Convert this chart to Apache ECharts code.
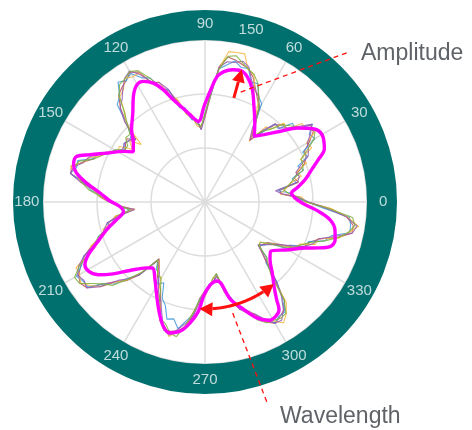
<!DOCTYPE html>
<html>
<head>
<meta charset="utf-8">
<script src="https://cdn.jsdelivr.net/npm/echarts@6/dist/echarts.min.js"></script>
<style>
  html, body { margin: 0; padding: 0; background: #ffffff; }
  #chart { width: 472px; height: 430px; }
</style>
</head>
<body>
<div id="chart"></div>
<script>
// Angle grid (degrees) shared by the five measured traces
const ANGLES = [
  0, 3, 6, 9, 12, 15, 18, 21, 24, 27,
  30, 33, 36, 39, 42, 45, 48, 51, 54, 57,
  60, 63, 66, 69, 72, 75, 78, 81, 84, 87,
  90, 93, 96, 99, 102, 105, 108, 111, 114, 117,
  120, 123, 126, 129, 132, 135, 138, 141, 144, 147,
  150, 153, 156, 159, 162, 165, 168, 171, 174, 177,
  180, 183, 186, 189, 192, 195, 198, 201, 204, 207,
  210, 213, 216, 219, 222, 225, 228, 231, 234, 237,
  240, 243, 246, 249, 252, 255, 258, 261, 264, 267,
  270, 273, 276, 279, 282, 285, 288, 291, 294, 297,
  300, 303, 306, 309, 312, 315, 318, 321, 324, 327,
  330, 333, 336, 339, 342, 345, 348, 351, 354, 357
];

// Measured radius traces
const TRACE_BLUE = [
  1.90, 1.65, 1.58, 1.36, 1.73, 1.67, 1.92, 1.84, 2.08, 2.03,
  2.35, 2.30, 2.46, 2.15, 2.18, 1.92, 1.95, 1.64, 1.51, 1.65,
  2.10, 2.19, 2.40, 2.38, 2.60, 2.58, 2.67, 2.57, 2.48, 1.98,
  1.64, 1.35, 1.55, 1.54, 1.79, 1.81, 2.18, 2.25, 2.52, 2.58,
  2.75, 2.68, 2.74, 2.51, 2.43, 2.06, 1.84, 1.80, 1.85, 1.78,
  1.92, 1.97, 2.16, 2.23, 2.48, 2.46, 2.55, 2.27, 2.13, 1.89,
  1.76, 1.55, 1.41, 1.56, 1.85, 1.84, 2.08, 2.13, 2.46, 2.56,
  2.75, 2.69, 2.68, 2.41, 2.27, 1.99, 1.80, 1.38, 1.54, 1.56,
  1.75, 1.68, 1.95, 2.05, 2.28, 2.24, 2.40, 2.23, 2.10, 1.80,
  1.70, 1.52, 1.50, 1.37, 1.68, 1.83, 2.08, 2.15, 2.35, 2.44,
  2.59, 2.52, 2.52, 2.27, 1.99, 1.60, 1.54, 1.27, 1.36, 1.40,
  1.69, 1.76, 2.04, 2.05, 2.33, 2.42, 2.74, 2.73, 2.69, 2.20
];
const TRACE_YELLOW = [
  1.86, 1.79, 1.40, 1.51, 1.60, 1.85, 1.77, 2.02, 1.93, 2.22,
  2.17, 2.45, 2.29, 2.31, 2.00, 2.07, 1.82, 1.79, 1.39, 1.66,
  1.90, 2.21, 2.26, 2.53, 2.58, 2.84, 2.83, 2.82, 2.49, 2.02,
  1.60, 1.37, 1.42, 1.66, 1.66, 1.97, 2.05, 2.38, 2.40, 2.68,
  2.68, 2.73, 2.57, 2.51, 2.21, 2.09, 1.59, 1.80, 1.66, 1.89,
  1.87, 2.03, 2.11, 2.29, 2.36, 2.58, 2.43, 2.33, 2.07, 1.95,
  1.72, 1.60, 1.30, 1.69, 1.72, 1.96, 1.96, 2.26, 2.34, 2.68,
  2.68, 2.75, 2.63, 2.49, 2.21, 2.05, 1.76, 1.39, 1.43, 1.60,
  1.62, 1.92, 2.03, 2.35, 2.42, 2.58, 2.45, 2.37, 2.05, 1.85,
  1.66, 1.58, 1.41, 1.39, 1.64, 1.89, 2.02, 2.21, 2.30, 2.49,
  2.54, 2.67, 2.56, 2.39, 1.84, 1.72, 1.43, 1.29, 1.26, 1.44,
  1.56, 1.88, 1.92, 2.19, 2.20, 2.57, 2.72, 2.88, 2.65, 2.34
];
const TRACE_PURPLE = [
  1.92, 1.73, 1.44, 1.32, 1.75, 1.81, 1.77, 1.90, 2.09, 2.15,
  2.19, 2.33, 2.45, 2.22, 2.05, 1.94, 1.95, 1.71, 1.41, 1.60,
  2.01, 2.19, 2.27, 2.41, 2.63, 2.70, 2.64, 2.63, 2.51, 2.03,
  1.58, 1.34, 1.53, 1.61, 1.69, 1.85, 2.19, 2.37, 2.43, 2.65,
  2.80, 2.73, 2.59, 2.44, 2.35, 2.11, 1.73, 1.81, 1.85, 1.81,
  1.85, 1.99, 2.17, 2.31, 2.37, 2.51, 2.55, 2.33, 2.05, 1.89,
  1.77, 1.61, 1.31, 1.59, 1.85, 1.93, 1.99, 2.17, 2.45, 2.63,
  2.72, 2.67, 2.71, 2.49, 2.17, 2.01, 1.81, 1.40, 1.46, 1.55,
  1.73, 1.89, 2.01, 2.23, 2.49, 2.55, 2.41, 2.27, 2.13, 1.85,
  1.64, 1.53, 1.48, 1.40, 1.60, 1.83, 2.09, 2.21, 2.27, 2.43,
  2.59, 2.61, 2.47, 2.25, 1.97, 1.67, 1.44, 1.26, 1.34, 1.45,
  1.57, 1.79, 2.03, 2.15, 2.21, 2.47, 2.79, 2.85, 2.63, 2.25
];
const TRACE_GREEN = [
  1.88, 1.73, 1.55, 1.47, 1.61, 1.71, 1.91, 1.94, 1.95, 2.13,
  2.33, 2.43, 2.31, 2.21, 2.11, 2.03, 1.81, 1.69, 1.50, 1.71,
  1.99, 2.19, 2.41, 2.53, 2.59, 2.67, 2.77, 2.73, 2.47, 2.01,
  1.64, 1.40, 1.46, 1.59, 1.75, 1.89, 2.05, 2.27, 2.51, 2.73,
  2.79, 2.72, 2.69, 2.53, 2.23, 2.03, 1.87, 1.89, 1.77, 1.77,
  1.93, 2.01, 2.11, 2.21, 2.45, 2.51, 2.41, 2.31, 2.17, 1.93,
  1.71, 1.57, 1.39, 1.65, 1.71, 1.89, 2.07, 2.21, 2.35, 2.61,
  2.79, 2.77, 2.57, 2.41, 2.31, 2.03, 1.75, 1.38, 1.50, 1.61,
  1.63, 1.81, 2.09, 2.31, 2.37, 2.51, 2.55, 2.31, 2.05, 1.81,
  1.74, 1.57, 1.42, 1.34, 1.70, 1.89, 2.01, 2.17, 2.39, 2.51,
  2.53, 2.57, 2.55, 2.33, 1.83, 1.65, 1.54, 1.28, 1.27, 1.41,
  1.67, 1.85, 1.95, 2.09, 2.33, 2.55, 2.71, 2.81, 2.75, 2.29
];
const TRACE_RED = [
  1.90, 1.68, 1.42, 1.40, 1.77, 1.71, 1.82, 1.97, 2.05, 2.07,
  2.23, 2.39, 2.42, 2.15, 2.04, 2.03, 1.92, 1.65, 1.43, 1.70,
  2.02, 2.14, 2.30, 2.48, 2.60, 2.64, 2.69, 2.72, 2.52, 1.96,
  1.58, 1.39, 1.52, 1.56, 1.68, 1.92, 2.16, 2.28, 2.42, 2.70,
  2.78, 2.68, 2.62, 2.54, 2.34, 2.04, 1.72, 1.86, 1.82, 1.76,
  1.86, 2.04, 2.18, 2.22, 2.38, 2.56, 2.54, 2.26, 2.06, 1.96,
  1.78, 1.54, 1.33, 1.66, 1.82, 1.86, 1.98, 2.24, 2.44, 2.58,
  2.70, 2.76, 2.70, 2.41, 2.20, 2.06, 1.82, 1.35, 1.44, 1.62,
  1.72, 1.81, 2.02, 2.32, 2.48, 2.48, 2.44, 2.34, 2.12, 1.78,
  1.64, 1.59, 1.48, 1.35, 1.62, 1.90, 2.09, 2.14, 2.28, 2.50,
  2.59, 2.54, 2.48, 2.34, 1.94, 1.62, 1.44, 1.31, 1.33, 1.38,
  1.58, 1.86, 2.02, 2.08, 2.22, 2.54, 2.78, 2.78, 2.64, 2.32
];

// Fitted eight-lobe profile (angle in degrees, radius)
const FIT_ANGLES = [
  0, 2.5, 5.9, 8.7, 12.6, 16.8, 20.5, 24, 29.8, 33.8,
  38.7, 43, 48.8, 53.2, 57.8, 62.9, 67.2, 71.4, 74.8, 78.3,
  81.7, 84.4, 87.1, 90.6, 94.7, 101.4, 107.2, 110.4, 113.5, 117.1,
  120.2, 124.2, 129.1, 135.4, 140.5, 145, 148.2, 153.5, 157.6, 160.4,
  164.2, 167.3, 170.9, 175.1, 179.5, 183, 186.6, 191.3, 195.7, 200.7,
  204.3, 207.6, 210.7, 214.3, 218, 222.4, 228.5, 231.6, 237.2, 242.9,
  247.6, 251.5, 255, 259, 262.9, 266.5, 269.5, 274, 278.8, 284.7,
  289.9, 294.3, 298.4, 301.7, 304.5, 306.3, 309.3, 313.5, 318.4, 323.1,
  330.2, 335.3, 337.9, 340.4, 343.8, 348, 351.9, 355.3, 358.5, 360
];
const FIT_RADII = [
  1.77, 1.67, 1.61, 1.72, 1.90, 2.06, 2.24, 2.42, 2.50, 2.43,
  2.19, 1.92, 1.66, 1.52, 1.73, 1.99, 2.26, 2.45, 2.52, 2.50,
  2.44, 2.34, 2.08, 1.77, 1.50, 1.71, 1.98, 2.22, 2.40, 2.51,
  2.51, 2.36, 2.12, 1.91, 1.72, 1.62, 1.78, 2.03, 2.30, 2.52,
  2.53, 2.44, 2.22, 1.95, 1.75, 1.58, 1.52, 1.67, 1.89, 2.14,
  2.37, 2.51, 2.51, 2.39, 2.16, 1.88, 1.63, 1.56, 1.71, 1.96,
  2.22, 2.43, 2.51, 2.44, 2.26, 2.03, 1.72, 1.53, 1.48, 1.87,
  2.12, 2.36, 2.49, 2.49, 2.42, 2.24, 2.02, 1.81, 1.61, 1.52,
  1.78, 2.04, 2.26, 2.46, 2.51, 2.46, 2.34, 2.11, 1.85, 1.77
];

// Angle tick labels printed on the ring
const TICK_ANGLES = [0, 30, 60, 75, 90, 120, 150, 180, 210, 240, 270, 300, 330];
const TICK_LABELS = ['0', '30', '60', '150', '90', '120', '150', '180', '210', '240', '270', '300', '330'];

// Annotation geometry in data units (radius, degrees)
const AMPLITUDE_ARROW = { angle: 74.5, from: 2.0, to: 2.55 };
const WAVELENGTH_ARC = { radius: 1.98, from: 267, to: 310 };

const TRACE_COLORS = {
  red: '#b0343c', blue: '#3f97dc', yellow: '#f4b63c', purple: '#9457b4', green: '#7fb23c'
};
const FIT_COLOR = '#ff00ff';
const RING_COLOR = '#00706f';
const GRID_COLOR = '#dddddd';
const FONT = '"Liberation Sans", Arial, sans-serif';

const CENTER = [205, 202];
const PLOT_RADIUS = 162;
const R_MAX = 3;
const RING_RADIUS = 177;
const LABEL_R = 3.3;

function pairs(radii, angles) {
  const out = radii.map((r, i) => [r, angles[i]]);
  out.push([radii[0], 360]);
  return out;
}

function traceSeries(name, values, color, opacity) {
  return {
    name: name,
    type: 'line',
    coordinateSystem: 'polar',
    polarIndex: 0,
    data: pairs(values, ANGLES),
    symbol: 'none',
    smooth: false,
    lineStyle: { color: color, width: 1.1, opacity: opacity },
    silent: true,
    z: 3
  };
}

const chart = echarts.init(document.getElementById('chart'), null, { renderer: 'canvas' });

chart.setOption({
  animation: false,
  backgroundColor: '#ffffff',
  polar: [
    { center: CENTER, radius: PLOT_RADIUS },
    { center: CENTER, radius: RING_RADIUS }
  ],
  angleAxis: [
    {
      polarIndex: 0, type: 'value', min: 0, max: 360, interval: 30,
      startAngle: 0, clockwise: false,
      axisLine: { show: false }, axisTick: { show: false }, axisLabel: { show: false },
      splitLine: { show: true, lineStyle: { color: GRID_COLOR, width: 1.5 } }
    },
    {
      polarIndex: 1, type: 'value', min: 0, max: 360, interval: 30,
      startAngle: 0, clockwise: false,
      axisLine: { show: true, lineStyle: { color: RING_COLOR, width: 30 } },
      axisTick: { show: false }, axisLabel: { show: false }, splitLine: { show: false }
    }
  ],
  radiusAxis: [
    {
      polarIndex: 0, type: 'value', min: 0, max: R_MAX, interval: 1,
      axisLine: { show: false }, axisTick: { show: false }, axisLabel: { show: false },
      splitLine: { show: true, lineStyle: { color: GRID_COLOR, width: 1.5 } }
    },
    {
      polarIndex: 1, type: 'value', min: 0, max: 1,
      axisLine: { show: false }, axisTick: { show: false }, axisLabel: { show: false },
      splitLine: { show: false }
    }
  ],
  series: [
    traceSeries('Trace 5', TRACE_RED, TRACE_COLORS.red, 0.75),
    traceSeries('Trace 1', TRACE_BLUE, TRACE_COLORS.blue, 0.85),
    traceSeries('Trace 3', TRACE_YELLOW, TRACE_COLORS.yellow, 0.85),
    traceSeries('Trace 4', TRACE_PURPLE, TRACE_COLORS.purple, 0.85),
    traceSeries('Trace 2', TRACE_GREEN, TRACE_COLORS.green, 0.85),
    {
      name: 'Fit',
      type: 'line',
      coordinateSystem: 'polar',
      polarIndex: 0,
      data: FIT_RADII.map((r, i) => [r, FIT_ANGLES[i]]),
      symbol: 'none',
      smooth: 0.35,
      lineStyle: { color: FIT_COLOR, width: 3.4 },
      silent: true,
      z: 4
    },
    {
      name: 'Angle labels',
      type: 'scatter',
      coordinateSystem: 'polar',
      polarIndex: 0,
      clip: false,
      symbolSize: 1,
      itemStyle: { color: 'rgba(0,0,0,0)' },
      data: TICK_ANGLES.map((a, i) => [LABEL_R, a, TICK_LABELS[i]]),
      label: {
        show: true,
        position: 'inside',
        formatter: (p) => p.data[2],
        color: '#eef6f6',
        fontSize: 15,
        fontFamily: FONT
      },
      silent: true,
      z: 5
    }
  ]
});

// Annotations: arrows and call-out lines placed through the polar coordinate system
function toPx(r, a) {
  let p = null;
  try { p = chart.convertToPixel({ polarIndex: 0 }, [r, a]); } catch (e) { p = null; }
  if (!p || isNaN(p[0])) {
    const rad = a * Math.PI / 180;
    const s = r / R_MAX * PLOT_RADIUS;
    p = [CENTER[0] + s * Math.cos(rad), CENTER[1] - s * Math.sin(rad)];
  }
  return p;
}

function head(tip, from, len, half) {
  const dx = tip[0] - from[0], dy = tip[1] - from[1];
  const d = Math.hypot(dx, dy) || 1;
  const ux = dx / d, uy = dy / d;
  const bx = tip[0] - ux * len, by = tip[1] - uy * len;
  return {
    base: [bx, by],
    points: [[tip[0], tip[1]], [bx - uy * half, by + ux * half], [bx + uy * half, by - ux * half]]
  };
}

const ARROW_RED = '#ff1010';
const graphics = [];

// Amplitude arrow (radial)
const ampTail = toPx(AMPLITUDE_ARROW.from, AMPLITUDE_ARROW.angle);
const ampTip = toPx(AMPLITUDE_ARROW.to, AMPLITUDE_ARROW.angle);
const ampHead = head(ampTip, ampTail, 13, 6.5);
graphics.push({
  type: 'line', z: 20,
  shape: { x1: ampTail[0], y1: ampTail[1], x2: ampHead.base[0], y2: ampHead.base[1] },
  style: { stroke: ARROW_RED, lineWidth: 3 }
});
graphics.push({ type: 'polygon', z: 20, shape: { points: ampHead.points }, style: { fill: ARROW_RED } });

// Wavelength arrow (arc between two lobes)
const arcR = WAVELENGTH_ARC.radius;
const arcStartTip = toPx(arcR, WAVELENGTH_ARC.from);
const arcEndTip = toPx(arcR, WAVELENGTH_ARC.to);
const headLen = 13;
const dAng = headLen / (arcR / R_MAX * PLOT_RADIUS) * 180 / Math.PI;
const startHead = head(arcStartTip, toPx(arcR, WAVELENGTH_ARC.from + 1), headLen, 7);
const endHead = head(arcEndTip, toPx(arcR, WAVELENGTH_ARC.to - 1), headLen, 7);
const arcPts = [];
for (let a = WAVELENGTH_ARC.from + dAng; a <= WAVELENGTH_ARC.to - dAng + 0.001; a += 0.5) {
  arcPts.push(toPx(arcR, a));
}
graphics.push({ type: 'polyline', z: 20, shape: { points: arcPts }, style: { stroke: ARROW_RED, lineWidth: 3, fill: null } });
graphics.push({ type: 'polygon', z: 20, shape: { points: startHead.points }, style: { fill: ARROW_RED } });
graphics.push({ type: 'polygon', z: 20, shape: { points: endHead.points }, style: { fill: ARROW_RED } });

// Dashed call-out lines and their captions
const ampLeader = toPx(2.14, 72);
const waveLeader = toPx(2.12, 284);
graphics.push({
  type: 'line', z: 19,
  shape: { x1: ampLeader[0], y1: ampLeader[1], x2: 349, y2: 52 },
  style: { stroke: ARROW_RED, lineWidth: 1.3, lineDash: [5, 4] }
});
graphics.push({
  type: 'line', z: 19,
  shape: { x1: waveLeader[0], y1: waveLeader[1], x2: 268, y2: 405 },
  style: { stroke: ARROW_RED, lineWidth: 1.3, lineDash: [5, 4] }
});
graphics.push({
  type: 'text', z: 21, x: 361, y: 54,
  style: { text: 'Amplitude', fill: '#5f6368', fontSize: 23, fontFamily: FONT, align: 'left', verticalAlign: 'middle' }
});
graphics.push({
  type: 'text', z: 21, x: 280, y: 417,
  style: { text: 'Wavelength', fill: '#5f6368', fontSize: 23, fontFamily: FONT, align: 'left', verticalAlign: 'middle' }
});

chart.setOption({ graphic: graphics });
</script>
</body>
</html>
